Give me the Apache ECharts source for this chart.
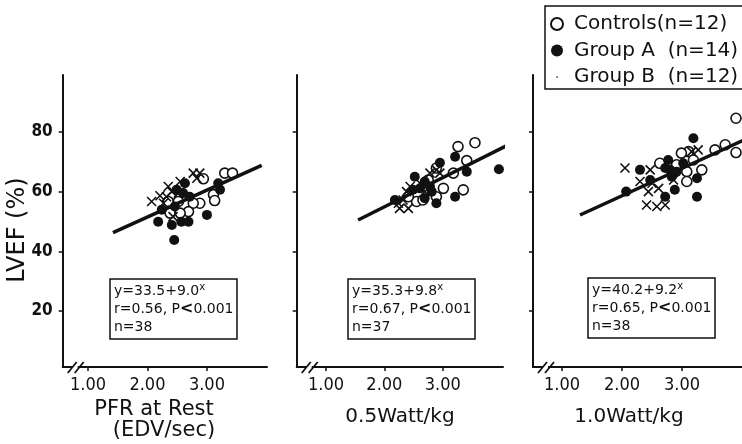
<!DOCTYPE html>
<html><head><meta charset="utf-8">
<script src="https://cdn.jsdelivr.net/npm/echarts@6/dist/echarts.min.js"></script>
<style>html,body{margin:0;padding:0;background:#fff}#c{width:742px;height:444px}</style>
</head><body><div id="c"></div>
<script>
// ---- data ----
const xTickValues = [1, 2, 3];
const yTickValues = [20, 40, 60, 80];
const groupNames = ['Controls(n=12)', 'Group A  (n=14)', 'Group B  (n=12)'];
const panelTitles = ['PFR at Rest', '0.5Watt/kg', '1.0Watt/kg'];
const restUnit = '(EDV/sec)';
const yTitle = 'LVEF (%)';

// PFR at rest
const controlsRest = [[3.30,66.2],[3.43,66.2],[2.94,64.3],[3.11,59.0],[3.13,57.0],[2.88,56.1],[2.77,56.1],[2.69,53.3],[2.55,52.8],[2.38,52.8],[2.35,56.7],[2.52,56.7]];
const groupARest = [[2.18,49.9],[2.24,53.9],[2.41,48.8],[2.45,43.8],[2.57,49.9],[2.69,49.9],[3.00,52.2],[2.63,62.8],[2.60,59.5],[2.49,60.6],[3.19,62.8],[3.22,60.6],[2.71,58.3],[2.46,55.0]];
const groupBRest = [[2.07,56.7],[2.21,58.6],[2.35,61.7],[2.41,60.0],[2.77,66.2],[2.88,66.2],[2.83,64.5],[2.32,58.3],[2.52,59.5],[2.27,56.1],[2.55,63.4],[2.43,51.6]];
// 0.5 Watt/kg
const controls05 = [[3.55,76.4],[3.26,75.1],[3.41,70.4],[3.18,66.2],[3.35,60.6],[3.01,61.1],[2.89,58.3],[2.55,56.7],[2.66,57.2],[2.41,58.3],[2.75,63.9],[2.89,67.9]];
const groupA05 = [[3.21,71.7],[2.95,69.7],[3.96,67.5],[3.41,66.7],[2.52,65.0],[2.69,63.4],[2.78,61.7],[2.61,61.1],[3.21,58.3],[2.89,56.1],[2.18,57.2],[2.69,57.8],[2.49,60.6],[2.81,60.0]];
const groupB05 = [[2.26,54.4],[2.24,56.1],[2.41,54.4],[2.38,60.0],[2.44,61.7],[2.78,66.2],[2.89,67.3],[2.95,66.2],[2.61,62.8],[2.32,57.2],[2.69,60.0]];
// 1.0 Watt/kg
const controls10 = [[3.90,84.6],[3.72,75.7],[3.55,74.0],[3.90,73.1],[3.11,73.4],[2.99,72.9],[3.19,70.6],[3.33,67.3],[3.08,66.7],[2.91,69.0],[2.63,69.5],[3.08,63.4]];
const groupA10 = [[3.19,77.9],[2.30,67.3],[2.07,60.0],[2.77,70.6],[2.80,67.3],[3.02,69.5],[2.72,58.3],[2.88,60.6],[3.25,64.5],[3.25,58.3],[2.72,67.9],[2.91,66.7],[2.47,63.9],[2.83,65.0]];
const groupB10 = [[2.05,67.9],[2.47,67.3],[2.30,63.4],[2.50,62.8],[2.61,61.1],[2.44,60.0],[2.41,55.5],[2.58,55.0],[2.72,55.5],[3.16,73.4],[3.27,74.0],[2.86,63.9]];

// regressions
const intercepts = [33.5, 35.3, 40.2];
const slopes = [9.0, 9.8, 9.2];
const lineXStart = [1.42, 1.55, 1.30];
const lineXEnd = [3.92, 4.20, 4.02];
const rValues = ['0.56', '0.67', '0.65'];
const nValues = [38, 37, 38];

const panelData = [
  [controlsRest, groupARest, groupBRest],
  [controls05, groupA05, groupB05],
  [controls10, groupA10, groupB10]
];

// ---- layout ----
const grids = [
  {left: 62.7, top: 75, width: 204.3, height: 292},
  {left: 296.7, top: 75, width: 206.3, height: 292},
  {left: 533, top: 75, width: 209, height: 292}
];
const xMins = [0.575, 0.499, 0.517];
const xMaxs = [4.01, 4.03, 4.0];
const yMin = 1.2, yMax = 99.1;
const boxPos = [[110, 279], [348, 279], [588, 278]];

const ink = '#111';
const narrow = '"Liberation Sans Narrow", "DejaVu Sans Condensed", sans-serif';
const sans = '"DejaVu Sans", sans-serif';

const xAxes = grids.map((g, i) => ({
  gridIndex: i, type: 'value', min: xMins[i], max: xMaxs[i],
  axisLine: {show: true, lineStyle: {color: ink, width: 2}},
  axisTick: {show: true, length: 4, customValues: xTickValues, lineStyle: {color: ink, width: 1.5}},
  axisLabel: {show: true, customValues: xTickValues, margin: 9, color: ink, fontSize: 18, fontFamily: narrow,
    formatter: v => v.toFixed(2)},
  splitLine: {show: false}
}));
const yAxes = grids.map((g, i) => ({
  gridIndex: i, type: 'value', min: yMin, max: yMax,
  axisLine: {show: true, lineStyle: {color: ink, width: 2}},
  axisTick: {show: true, length: 4, customValues: yTickValues, lineStyle: {color: ink, width: 1.5}},
  axisLabel: {show: i === 0, customValues: yTickValues, margin: 10, color: ink, fontSize: 17, fontWeight: 'bold', fontFamily: narrow},
  splitLine: {show: false}
}));

const crossPath = 'path://M0,0L10,10M10,0L0,10';
const series = [];
panelData.forEach((groups, i) => {
  series.push({
    name: groupNames[0], type: 'scatter', xAxisIndex: i, yAxisIndex: i, data: groups[0],
    symbol: 'circle', symbolSize: 10, z: 3,
    itemStyle: {color: '#fff', borderColor: ink, borderWidth: 1.6, opacity: 1}
  });
  series.push({
    name: groupNames[1], type: 'scatter', xAxisIndex: i, yAxisIndex: i, data: groups[1],
    symbol: 'circle', symbolSize: 10, z: 4,
    itemStyle: {color: ink, borderColor: ink, borderWidth: 0, opacity: 1}
  });
  series.push({
    name: groupNames[2], type: 'scatter', xAxisIndex: i, yAxisIndex: i, data: groups[2],
    symbol: crossPath, symbolSize: 9, z: 4,
    itemStyle: {color: ink, borderColor: ink, borderWidth: 1.6, opacity: 1}
  });
  const a = intercepts[i], b = slopes[i];
  series.push({
    type: 'line', xAxisIndex: i, yAxisIndex: i, clip: false, z: 5,
    data: [[lineXStart[i], a + b * lineXStart[i]], [lineXEnd[i], a + b * lineXEnd[i]]],
    symbol: 'none', silent: true,
    lineStyle: {color: ink, width: 3.5}
  });
});

const titles = boxPos.map((p, i) => ({
  left: p[0], top: p[1], padding: [3, 4, 3, 4],
  borderColor: ink, borderWidth: 1.5,
  text: 'y=' + intercepts[i].toFixed(1) + '+' + slopes[i].toFixed(1) + '{s|x}\nr=' + rValues[i] + ', P{b|<}0.001\nn=' + nValues[i],
  textStyle: {fontSize: 14, fontWeight: 'normal', fontFamily: sans, color: ink, lineHeight: 18,
    rich: {s: {fontSize: 10, fontFamily: sans, color: ink, verticalAlign: 'top', lineHeight: 18},
           b: {fontSize: 16, fontWeight: 'bold', fontFamily: sans, color: ink, lineHeight: 18}}}
}));

const chart = echarts.init(document.getElementById('c'), null, {renderer: 'canvas'});
chart.setOption({
  animation: false,
  backgroundColor: '#fff',
  grid: grids,
  xAxis: xAxes,
  yAxis: yAxes,
  title: titles,
  legend: {
    orient: 'vertical', left: 545, top: 6, selectedMode: false,
    padding: [8, 12, 2, 5], itemGap: 6.5, itemWidth: 24, itemHeight: 12,
    borderColor: ink, borderWidth: 1.5,
    textStyle: {fontSize: 20, fontFamily: sans, color: ink},
    data: [
      {name: groupNames[0], icon: 'circle'},
      {name: groupNames[1], icon: 'circle'},
      {name: groupNames[2], icon: 'path://M0,0h0.05v0.05h-0.05zM4.3,4.3h1.6v1.6h-1.6zM10,10h0.05v0.05h-0.05z', itemStyle: {color: '#777', borderWidth: 0}}
    ]
  },
  series: series
});

// axis titles and axis-break marks
const gfx = [
  {type: 'text', x: 154, y: 410, style: {text: panelTitles[0], fontSize: 21, fontFamily: sans, fill: ink, align: 'center', verticalAlign: 'middle'}},
  {type: 'text', x: 164, y: 431, style: {text: restUnit, fontSize: 21, fontFamily: sans, fill: ink, align: 'center', verticalAlign: 'middle'}},
  {type: 'text', x: 400, y: 417, style: {text: panelTitles[1], fontSize: 20, fontFamily: sans, fill: ink, align: 'center', verticalAlign: 'middle'}},
  {type: 'text', x: 629, y: 417, style: {text: panelTitles[2], fontSize: 20, fontFamily: sans, fill: ink, align: 'center', verticalAlign: 'middle'}},
  {type: 'text', x: 18, y: 230, rotation: Math.PI / 2, style: {text: yTitle, fontSize: 24, fontFamily: sans, fill: ink, align: 'center', verticalAlign: 'middle'}}
];
grids.forEach((g, i) => {
  const o = chart.convertToPixel({gridIndex: i}, [xMins[i], yMin]);
  const ox = o[0], oy = o[1];
  gfx.push({type: 'rect', shape: {x: ox + 10, y: oy - 3, width: 5, height: 6}, style: {fill: '#fff'}, z: 100});
  gfx.push({type: 'line', shape: {x1: ox + 5, y1: oy + 6, x2: ox + 14, y2: oy - 5}, style: {stroke: ink, lineWidth: 1.8}, z: 101});
  gfx.push({type: 'line', shape: {x1: ox + 12, y1: oy + 6, x2: ox + 21, y2: oy - 5}, style: {stroke: ink, lineWidth: 1.8}, z: 101});
});
chart.setOption({graphic: gfx});
</script>
</body></html>
